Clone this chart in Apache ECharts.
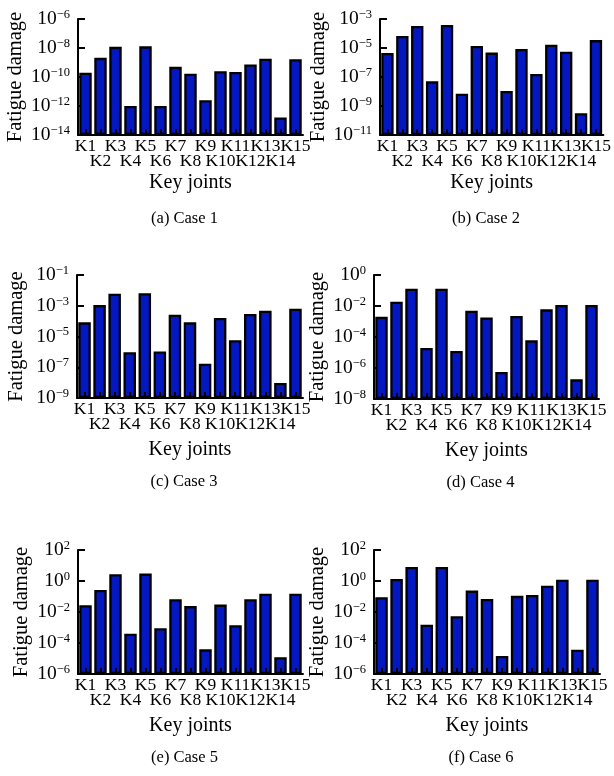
<!DOCTYPE html>
<html>
<head>
<meta charset="utf-8">
<script src="https://cdn.jsdelivr.net/npm/echarts@6/dist/echarts.min.js"></script>
<style>html,body{margin:0;padding:0;background:#fff;}#c{width:614px;height:776px;}</style>
</head>
<body>
<div id="c"></div>
<script>
// ---------- data ----------
const categories = ['K1','K2','K3','K4','K5','K6','K7','K8','K9','K10','K11','K12','K13','K14','K15'];

const case1 = [2.0e-10, 2.1e-9, 1.2e-8, 1.0e-12, 1.3e-8, 1.0e-12, 5.0e-10, 1.7e-10, 2.5e-12, 2.5e-10, 2.2e-10, 7.4e-10, 1.8e-9, 1.6e-13, 1.7e-9];
const case2 = [4.5e-6, 6.8e-5, 3.3e-4, 5.0e-8, 3.9e-4, 7.0e-9, 1.4e-5, 4.8e-6, 1.07e-8, 8.5e-6, 1.6e-7, 1.7e-5, 5.6e-6, 3.2e-10, 3.5e-5];
const case3 = [8.3e-5, 1.1e-3, 6.0e-3, 9.6e-7, 6.6e-3, 1.07e-6, 2.6e-4, 8.3e-5, 1.7e-7, 1.6e-4, 5.8e-6, 2.9e-4, 4.8e-4, 9.5e-9, 6.4e-4];
const case4 = [2.0e-3, 1.9e-2, 0.13, 1.95e-5, 0.13, 1.25e-5, 5.0e-3, 1.8e-3, 5.5e-7, 2.3e-3, 6.1e-5, 6.1e-3, 1.15e-2, 1.85e-7, 1.15e-2];
const case5 = [2.7e-2, 0.26, 2.7, 4.0e-4, 3.0, 9.0e-4, 6.6e-2, 2.4e-2, 3.9e-5, 3.0e-2, 1.4e-3, 6.6e-2, 0.15, 1.2e-5, 0.15];
const case6 = [8.9e-2, 1.35, 8.0, 1.5e-3, 8.0, 5.3e-3, 0.24, 6.9e-2, 1.45e-5, 0.11, 0.125, 0.5, 1.2, 3.7e-5, 1.2];

const ticks1 = [1e-14, 1e-12, 1e-10, 1e-8, 1e-6];
const ticks2 = [1e-11, 1e-9, 1e-7, 1e-5, 1e-3];
const ticks3 = [1e-9, 1e-7, 1e-5, 1e-3, 1e-1];
const ticks4 = [1e-8, 1e-6, 1e-4, 1e-2, 1e0];
const ticks5 = [1e-6, 1e-4, 1e-2, 1e0, 1e2];
const ticks6 = [1e-6, 1e-4, 1e-2, 1e0, 1e2];

const captions = ['(a) Case 1', '(b) Case 2', '(c) Case 3', '(d) Case 4', '(e) Case 5', '(f) Case 6'];
const xName = 'Key joints';
const yName = 'Fatigue damage';

// ---------- layout ----------
const seriesData = [case1, case2, case3, case4, case5, case6];
const tickSets = [ticks1, ticks2, ticks3, ticks4, ticks5, ticks6];
const layout = [
  {left: 78,  top: 19,  width: 225, height: 116, yGap: 52, xGap: 38},
  {left: 380, top: 19,  width: 224, height: 116, yGap: 47, xGap: 38},
  {left: 77,  top: 275, width: 226, height: 123, yGap: 50, xGap: 42},
  {left: 374, top: 275, width: 225, height: 124, yGap: 46, xGap: 42},
  {left: 78,  top: 550, width: 225, height: 124, yGap: 46, xGap: 42},
  {left: 374, top: 550, width: 226, height: 124, yGap: 46, xGap: 42}
];
const FONT = 'Liberation Serif, Times New Roman, serif';

function supLabel(v) {
  const e = Math.round(Math.log10(v));
  const s = e < 0 ? '\u2212' + (-e) : String(e);
  return '{b|10}{s|' + s + '}';
}

const grids = [], xAxes = [], yAxes = [], series = [], graphics = [];
layout.forEach((L, i) => {
  const ticks = tickSets[i];
  grids.push({left: L.left, top: L.top, width: L.width, height: L.height, containLabel: false});
  xAxes.push({
    type: 'category', gridIndex: i, data: categories,
    name: xName, nameLocation: 'middle', nameGap: L.xGap,
    nameTextStyle: {fontFamily: FONT, fontSize: 20, color: '#000'},
    axisLine: {lineStyle: {color: '#000', width: 2}},
    axisTick: {show: true, inside: true, alignWithLabel: true, length: 6, lineStyle: {color: '#000', width: 2}},
    axisLabel: {
      interval: 0, margin: 4, color: '#000', fontFamily: FONT, fontSize: 17.5, lineHeight: 15,
      formatter: (v, idx) => (idx % 2 === 1 ? '\n' + v : v)
    },
    z: 5
  });
  yAxes.push({
    type: 'log', logBase: 10, gridIndex: i,
    min: ticks[0], max: ticks[ticks.length - 1], startValue: ticks[0],
    name: yName, nameLocation: 'middle', nameGap: L.yGap,
    nameTextStyle: {fontFamily: FONT, fontSize: 20.5, color: '#000'},
    splitLine: {show: false},
    axisLine: {show: true, lineStyle: {color: '#000', width: 2}},
    axisTick: {show: true, inside: true, length: 7, customValues: ticks, lineStyle: {color: '#000', width: 2}},
    axisLabel: {
      margin: 8, customValues: ticks, color: '#000',
      formatter: supLabel,
      rich: {
        b: {fontFamily: FONT, fontSize: 19.5, lineHeight: 22, color: '#000'},
        s: {fontFamily: FONT, fontSize: 12.5, lineHeight: 12, verticalAlign: 'top', color: '#000'}
      }
    }
  });
  series.push({
    type: 'bar', xAxisIndex: i, yAxisIndex: i, data: seriesData[i],
    barCategoryGap: '17%',
    itemStyle: {color: '#0418c2', borderColor: '#000', borderWidth: 2.3},
    animation: false
  });
  const cx = L.left + L.width / 2 - 6;
  const cy = L.top + L.height + 84;
  graphics.push({
    type: 'text', x: cx, y: cy,
    style: {text: captions[i], font: '16.5px ' + FONT, fill: '#000', textAlign: 'center', textVerticalAlign: 'middle'}
  });
});

const chart = echarts.init(document.getElementById('c'), null, {renderer: 'canvas'});
chart.setOption({
  animation: false,
  backgroundColor: '#fff',
  grid: grids, xAxis: xAxes, yAxis: yAxes, series: series,
  graphic: graphics
});
</script>
</body>
</html>
